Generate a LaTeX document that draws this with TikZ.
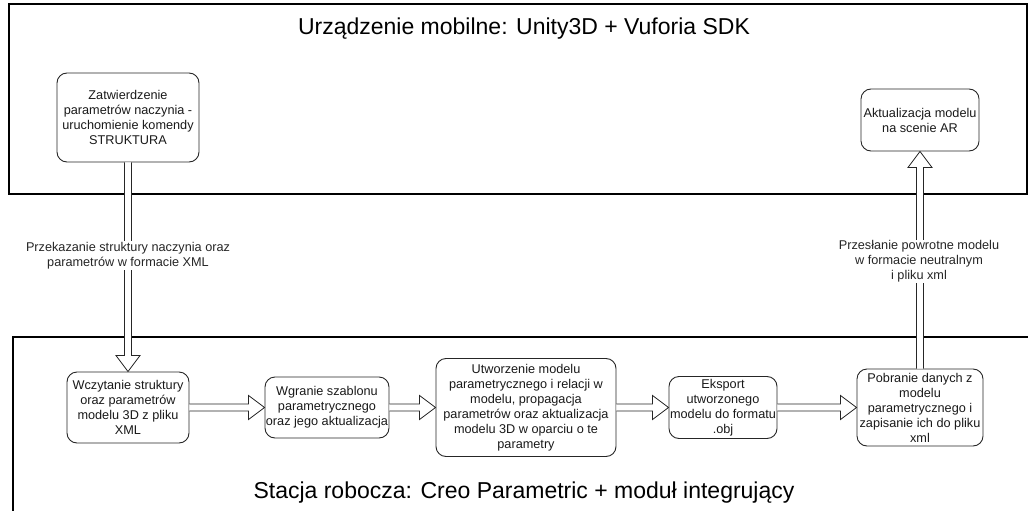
\documentclass[tikz,border=0pt]{standalone}
\usepackage{fontspec}
\setmainfont{Liberation Sans}
\usetikzlibrary{calc}
\begin{document}
\begin{tikzpicture}[x=1pt,y=-1pt,
  box/.style={draw=black!85, line width=0.9pt, rounded corners=10pt, align=center,
    inner sep=0pt, font=\fontsize{12.7}{15}\selectfont, text=black!90},
  cont/.style={draw=black, line width=2pt},
  blk/.style={draw=black!85, line width=0.8pt, fill=white, line join=miter},
  lbl/.style={fill=white, align=center, inner sep=1pt, font=\fontsize{12.7}{15}\selectfont, text=black!85},
  ttl/.style={font=\fontsize{23}{27}\selectfont, text=black}]
\useasboundingbox (0,0) rectangle (1028,511);
\clip (0,0) rectangle (1028,511);
% containers
\draw[cont] (9,4) rectangle (1027,194);
\draw[cont] (13,337) rectangle (1045,530);
\node[ttl] (t1) at (524,29) {Urządzenie mobilne: Unity3D + Vuforia SDK};
\node[ttl] (t2) at (524,493) {Stacja robocza: Creo Parametric + moduł integrujący};
% boxes
\node[box, minimum width=142pt, minimum height=89pt] (A) at (128,117.5)
  {Zatwierdzenie\\parametrów naczynia -\\uruchomienie komendy\\STRUKTURA};
\node[box, minimum width=118pt, minimum height=62pt] (B) at (920,120)
  {Aktualizacja modelu\\na scenie AR};
\node[box, minimum width=122pt, minimum height=71pt] (C) at (128,407.5)
  {Wczytanie struktury\\oraz parametrów\\modelu 3D z pliku\\XML};
\node[box, minimum width=124pt, minimum height=61pt] (D) at (327,407.5)
  {Wgranie szablonu\\parametrycznego\\oraz jego aktualizacja};
\node[box, minimum width=180pt, minimum height=98pt] (E) at (526,407.5)
  {Utworzenie modelu\\parametrycznego i relacji w\\modelu, propagacja\\parametrów oraz aktualizacja\\modelu 3D w oparciu o te\\parametry};
\node[box, minimum width=108pt, minimum height=62pt] (F) at (723,407.5)
  {Eksport\\utworzonego\\modelu do formatu\\.obj};
\node[box, minimum width=126pt, minimum height=77pt] (G) at (920,407.5)
  {Pobranie danych z\\modelu\\parametrycznego i\\zapisanie ich do pliku\\xml};
% horizontal block arrows
\newcommand\harrow[2]{%
\draw[blk] ($(#1.east)+(0,-3.5)$) -- ($(#2.west)+(-16,-3.5)$) -- ($(#2.west)+(-16,-12)$)
  -- (#2.west) -- ($(#2.west)+(-16,12)$) -- ($(#2.west)+(-16,3.5)$) -- ($(#1.east)+(0,3.5)$);}
\harrow{C}{D}
\harrow{D}{E}
\harrow{E}{F}
\harrow{F}{G}
% vertical block arrow down A -> C
\draw[blk] ($(A.south)+(-3.5,0)$) -- ($(C.north)+(-3.5,-16)$) -- ($(C.north)+(-12,-16)$)
  -- (C.north) -- ($(C.north)+(12,-16)$) -- ($(C.north)+(3.5,-16)$) -- ($(A.south)+(3.5,0)$);
% vertical block arrow up G -> B
\draw[blk] ($(G.north)+(-3.5,0)$) -- ($(B.south)+(-3.5,16)$) -- ($(B.south)+(-12,16)$)
  -- (B.south) -- ($(B.south)+(12,16)$) -- ($(B.south)+(3.5,16)$) -- ($(G.north)+(3.5,0)$);
% labels
\node[lbl] (l1) at (128,255.5) {Przekazanie struktury naczynia oraz\\parametrów w formacie XML};
\node[lbl] (l2) at (919,261.5) {Przesłanie powrotne modelu\\w formacie neutralnym\\i pliku xml};
\end{tikzpicture}
\end{document}
